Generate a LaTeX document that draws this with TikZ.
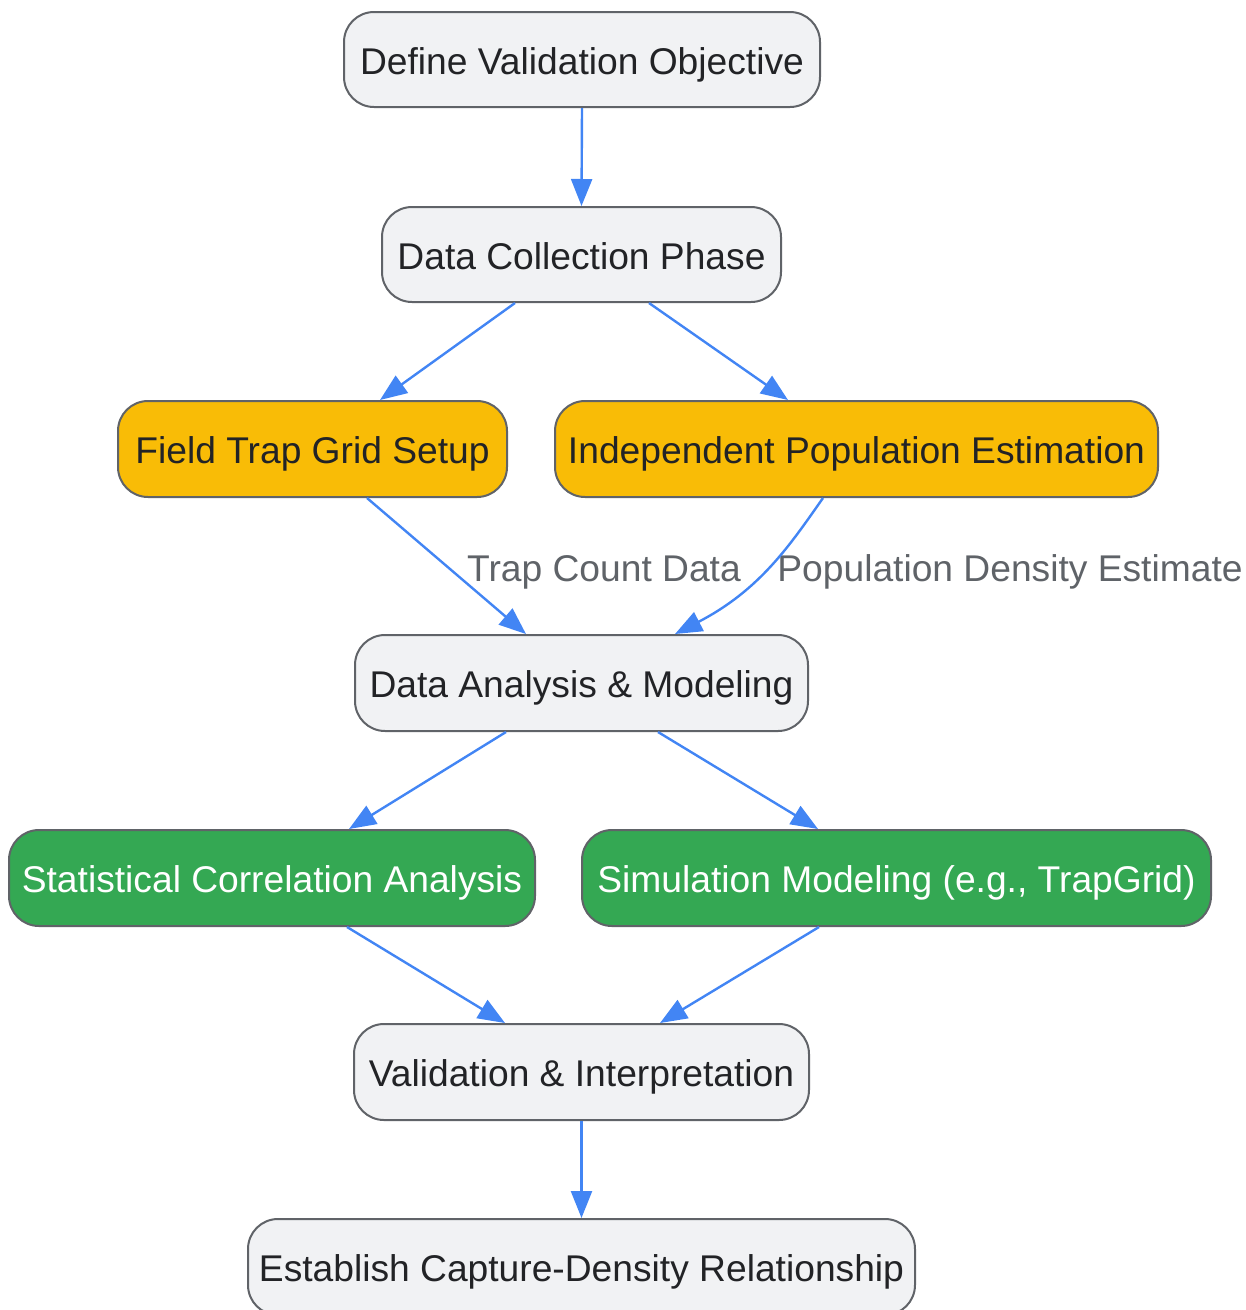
\documentclass[tikz,border=0pt]{standalone}
\usepackage{fontspec}
\setmainfont{Liberation Sans}
\usetikzlibrary{arrows.meta}
\definecolor{boxgray}{HTML}{F1F2F4}
\definecolor{boxline}{HTML}{606368}
\definecolor{orangefill}{HTML}{F9BC06}
\definecolor{greenfill}{HTML}{34A853}
\definecolor{edgeblue}{HTML}{4285F4}
\definecolor{txtdark}{HTML}{222326}
\definecolor{lblgray}{HTML}{5F6368}
\tikzset{
  box/.style={draw=boxline, line width=2pt, rounded corners=30pt, minimum height=96pt,
    inner sep=0pt, font=\fontsize{37.2}{44}\selectfont, text=txtdark,
    text height=29pt, text depth=0pt},
  graybox/.style={box, fill=boxgray},
  orangebox/.style={box, fill=orangefill},
  greenbox/.style={box, fill=greenfill, text=white},
  edge/.style={draw=edgeblue, line width=2.4pt, -{Triangle[length=27pt,width=21pt]}},
  elabel/.style={font=\fontsize{37.2}{44}\selectfont, text=lblgray, inner sep=0pt,
    text height=29pt, text depth=0pt}
}
\begin{document}
\begin{tikzpicture}[x=1pt,y=-1pt]
\useasboundingbox (0,0) rectangle (1246,1310);
\node[graybox, minimum width=476pt, minimum height=95pt] (n1) at (582,59.5) {Define Validation Objective};
\node[graybox, minimum width=399pt, minimum height=95pt] (n2) at (581.5,254.5) {Data Collection Phase};
\node[orangebox, minimum width=389pt] (n3) at (312.5,449) {Field Trap Grid Setup};
\node[orangebox, minimum width=603pt] (n4) at (856.5,449) {Independent Population Estimation};
\node[graybox, minimum width=453pt] (n5) at (581.5,683) {Data Analysis \& Modeling};
\node[greenbox, minimum width=526pt] (n6) at (272,878) {Statistical Correlation Analysis};
\node[greenbox, minimum width=629pt] (n7) at (896.5,878) {Simulation Modeling (e.g., TrapGrid)};
\node[graybox, minimum width=455pt] (n8) at (581.5,1072) {Validation \& Interpretation};
\node[graybox, minimum width=667pt] (n9) at (581.5,1267) {Establish Capture-Density Relationship};

\node[elabel] (l1) at (604,567) {Trap Count Data};
\node[elabel] (l2) at (1010,567) {Population Density Estimate};

\draw[edge] (n1.south) -- (n2.north);
\draw[edge] ([xshift=-66.5pt]n2.south) -- ([xshift=67.5pt]n3.north);
\draw[edge] ([xshift=67.5pt]n2.south) -- ([xshift=-68.5pt]n4.north);
\draw[edge] ([xshift=54.5pt]n3.south) -- ([xshift=-55.5pt]n5.north);
\draw[edge] ([xshift=-33.5pt]n4.south) .. controls (790,545) and (760,590) .. ([xshift=93.5pt]n5.north);
\draw[edge] ([xshift=-75.5pt]n5.south) -- ([xshift=77pt]n6.north);
\draw[edge] ([xshift=76.5pt]n5.south) -- ([xshift=-78.5pt]n7.north);
\draw[edge] ([xshift=75pt]n6.south) -- ([xshift=-76.5pt]n8.north);
\draw[edge] ([xshift=-77.5pt]n7.south) -- ([xshift=78.5pt]n8.north);
\draw[edge] (n8.south) -- (n9.north);
\end{tikzpicture}
\end{document}
